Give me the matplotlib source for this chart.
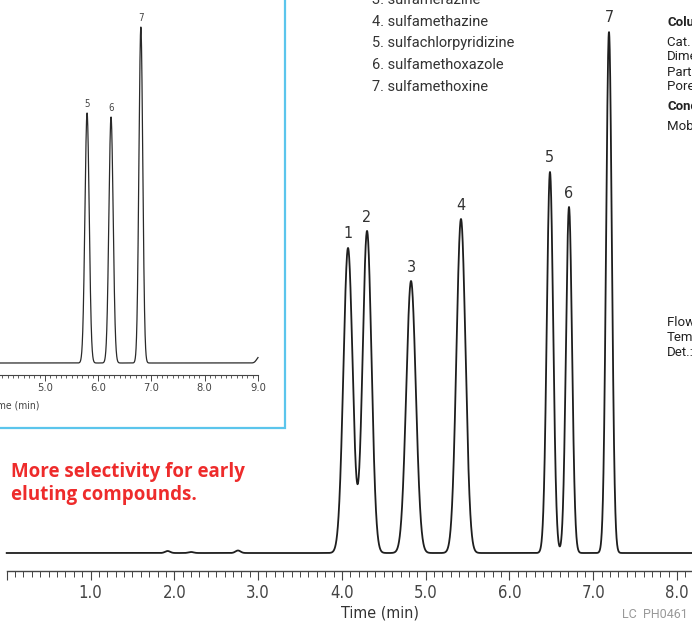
import numpy as np
import matplotlib.pyplot as plt
from matplotlib.patches import Rectangle
from matplotlib.ticker import MultipleLocator, FixedLocator

W, H = 692, 624

# main chromatogram, peaks
peak_ids = ['1', '2', '3', '4', '5', '6', '7']
peak_times = [4.073, 4.300, 4.825, 5.421, 6.483, 6.710, 7.187]
peak_heights = [305, 322, 272, 334, 381, 346, 521]
peak_sigmas = [0.055, 0.053, 0.057, 0.054, 0.038, 0.036, 0.034]

# tiny baseline wobbles
blip_times = [1.92, 2.20, 2.76]
blip_heights = [2.0, 1.0, 2.5]

# inset chromatogram
inset_ids = ['5', '6', '7']
inset_times = [5.79, 6.24, 6.80]
inset_heights = [250, 246, 336]
inset_sigmas = [0.040, 0.040, 0.036]
inset_end_rise = 6

main_ticks = [1, 2, 3, 4, 5, 6, 7, 8]
inset_ticks = [5, 6, 7, 8, 9]

compounds = ['3. sulfamerazine', '4. sulfamethazine', '5. sulfachlorpyridizine',
             '6. sulfamethoxazole', '7. sulfamethoxine']
compound_y = [0, 22, 43, 65, 87]

column_info = ['Column', 'Cat. No.:', 'Dimensions:', 'Particle Size:', 'Pore Size:',
               'Conditions', 'Mobile Phase:', 'Flow Rate:', 'Temp.:', 'Det.:']
column_info_y = [22, 42, 57, 72, 87, 107, 127, 322, 337, 352]
column_info_bold = [True, False, False, False, False, True, False, False, False, False]

narrow = dict(family='DejaVu Sans', fontstretch='condensed')


def fx(x):
    return x / W


def fy(y):
    return 1 - y / H


def trace(t, times, heights, sigmas):
    y = np.zeros_like(t)
    for c, h, s in zip(times, heights, sigmas):
        y += h * np.exp(-0.5 * ((t - c) / s) ** 2)
    return y


fig = plt.figure(figsize=(W / 100, H / 100), dpi=100)

# ---- main chart
ax = fig.add_axes([0, fy(571), 1, 571 / H])
ax.patch.set_alpha(0)
x0, ppm = 6.7, 83.8
ax.set_xlim(-x0 / ppm, (W - x0) / ppm)
ax.set_ylim(-18, 553)

t = np.linspace(0, 8.3, 6000)
y = trace(t, peak_times, peak_heights, peak_sigmas)
y += trace(t, blip_times, blip_heights, [0.03] * len(blip_times))
ax.plot(t, y, color='#1e1e1e', lw=1.3)

for pid, c, h in zip(peak_ids, peak_times, peak_heights):
    ax.text(c, h + 14, pid, ha='center', va='center', fontsize=11.5,
            color='#333333', **narrow)

for s in ['top', 'left', 'right']:
    ax.spines[s].set_visible(False)
ax.spines['bottom'].set_bounds(0, (W - x0) / ppm)
ax.spines['bottom'].set_linewidth(1.0)
ax.spines['bottom'].set_color('#444444')
ax.set_yticks([])
ax.set_xticks([0] + main_ticks)
ax.set_xticklabels([''] + ['%.1f' % v for v in main_ticks], fontsize=12,
                   color='#444444', **narrow)
ax.xaxis.set_minor_locator(MultipleLocator(0.1))
ax.tick_params(axis='x', which='major', direction='out', length=6.5, width=0.8,
               color='#444444', pad=3)
ax.tick_params(axis='x', which='minor', direction='out', length=4, width=0.7,
               color='#444444')

fig.text(fx(380), fy(613), 'Time (min)', ha='center', va='center', fontsize=11.5,
         color='#333333', **narrow)
fig.text(fx(622), fy(615), 'LC  PH0461', ha='left', va='center', fontsize=9,
         family='Roboto', color='#999999')

# ---- inset
ax2 = fig.add_axes([0, fy(375), 285 / W, 375 / H])
ax2.patch.set_alpha(0)
i0, ippm = 45, 53.25
ax2.set_xlim(5 - i0 / ippm, 5 + (285 - i0) / ippm)
ax2.set_ylim(-12, 363)
ti = np.linspace(4.1, 9.0, 4000)
yi = trace(ti, inset_times, inset_heights, inset_sigmas)
yi += trace(ti, [9.02], [inset_end_rise], [0.045])
ax2.plot(ti, yi, color='#2a2a2a', lw=0.9)
for pid, c, h in zip(inset_ids, inset_times, inset_heights):
    ax2.text(c, h + 9, pid, ha='center', va='center', fontsize=7,
             color='#444444', **narrow)
for s in ['top', 'left', 'right']:
    ax2.spines[s].set_visible(False)
ax2.spines['bottom'].set_bounds(5 - i0 / ippm, 9.0)
ax2.spines['bottom'].set_linewidth(0.8)
ax2.spines['bottom'].set_color('#444444')
ax2.set_yticks([])
ax2.set_xticks(inset_ticks)
ax2.set_xticklabels(['%.1f' % v for v in inset_ticks], fontsize=8,
                    color='#444444', **narrow)
ax2.xaxis.set_minor_locator(FixedLocator(np.arange(4.2, 9.001, 0.1)))
ax2.tick_params(axis='x', which='major', direction='out', length=4, width=0.7,
                color='#444444', pad=1.5)
ax2.tick_params(axis='x', which='minor', direction='out', length=2.5, width=0.6,
                color='#444444')
fig.text(fx(14), fy(405), 'Time (min)', ha='center', va='center', fontsize=7.5,
         color='#444444', **narrow)

fig.add_artist(Rectangle((fx(-5), fy(428)), fx(285) - fx(-5), fy(-5) - fy(428),
                         transform=fig.transFigure, fill=False,
                         edgecolor='#5bc5ec', lw=1.6))

# ---- texts
for name, yy in zip(compounds, compound_y):
    fig.text(fx(372), fy(yy), name, ha='left', va='center', fontsize=10.5,
             family='Roboto', color='#333333')

for label, yy, b in zip(column_info, column_info_y, column_info_bold):
    fig.text(fx(667), fy(yy), label, ha='left', va='center', fontsize=9.5,
             family='Roboto', color='#222222', fontweight='bold' if b else 'normal')

fig.text(fx(11), fy(472), 'More selectivity for early', ha='left', va='center',
         fontsize=13.5, family='Open Sans', fontweight='bold', color='#ee2b2b')
fig.text(fx(11), fy(495), 'eluting compounds.', ha='left', va='center',
         fontsize=13.5, family='Open Sans', fontweight='bold', color='#ee2b2b')

fig.savefig('out.png', dpi=100)
